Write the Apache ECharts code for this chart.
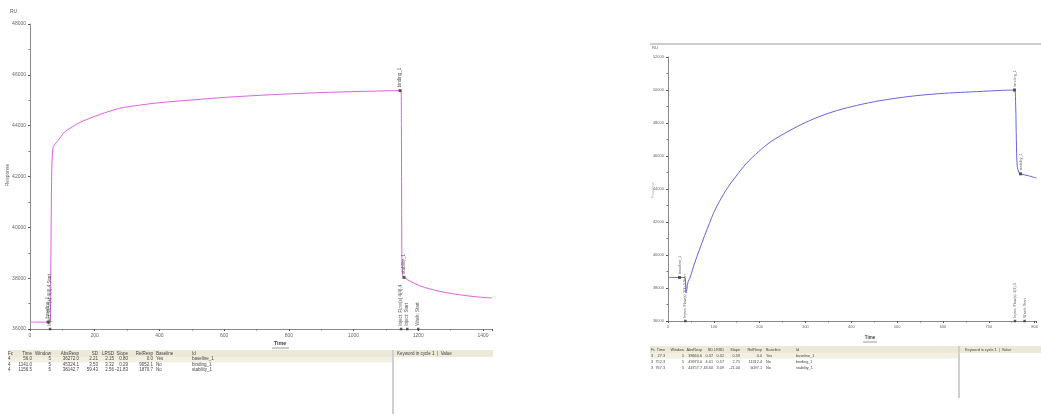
<!DOCTYPE html>
<html>
<head>
<meta charset="utf-8">
<script src="https://cdn.jsdelivr.net/npm/echarts@6/dist/echarts.min.js"></script>
<style>
html, body { margin: 0; padding: 0; background: #fff; overflow: hidden; }
#sensorgram { width: 1041px; height: 417px; }
</style>
</head>
<body>
<div id="sensorgram"></div>
<script>
// left run (flow cell 4)
var leftTime = [0, 20, 40, 56, 62, 64, 66, 68, 70, 72, 88, 108, 124, 150, 185, 230, 278, 340, 402, 500, 608, 750, 896, 1020, 1144,
    1147, 1148, 1149, 1150, 1153, 1159, 1175, 1205, 1235, 1267, 1310, 1350, 1390, 1428];
var leftResp = [36272, 36272, 36272, 36272, 36280, 38000, 41000, 42600, 43000, 43176, 43440, 43766, 43900, 44100, 44292, 44500, 44685, 44810, 44905, 45010, 45118, 45220, 45300, 45345, 45378,
    45378, 44000, 40000, 38460, 38067, 38004, 37880, 37702, 37580, 37478, 37380, 37309, 37255, 37218];
var leftReports = [['baseline_1', 56, 36272], ['binding_1', 1144, 45378], ['stability_1', 1156, 38030]];
var leftEvents = [['Inject: Flow(s) 4(4),4 Start', 62], ['Inject: Flow(s) 4(4),4', 1147], ['Inject: Start', 1166], ['Wash: Start', 1200]];

// right run (flow cell 3)
var rightTime = [0, 15, 25, 36, 38, 39.5, 41, 44, 47.4, 58, 69, 80, 90.5, 100, 112, 130, 148, 170, 198, 225, 256, 290, 328, 360, 399, 450, 502, 550, 603, 650, 701, 730, 756,
    758.6, 760, 762, 765.7, 769, 787, 804];
var rightResp = [38639, 38639, 38639, 38640, 38500, 37700, 37900, 38400, 38578, 39500, 40350, 41180, 41922, 42580, 43235, 44080, 44755, 45520, 46275, 46880, 47394, 47900, 48366, 48680, 48980, 49290, 49520, 49680, 49800, 49870, 49940, 49980, 50000,
    49010, 46987, 45363, 44998, 44919, 44798, 44658];
var rightReports = [['baseline_1', 25, 38639], ['binding_1', 756, 50000], ['stability_1', 769, 44919]];
var rightEvents = [['Inject: Flow(s) 3(3),3 Start', 38], ['Inject: Flow(s) 3(3),3', 757], ['Wash: Start', 778]];

// report point tables
var tableHeader = ['Fc', 'Time', 'Window', 'AbsResp', 'SD', 'LRSD', 'Slope', 'RelResp', 'Baseline', 'Id'];
var leftRows = [
    ['4', '56.0', '5', '36272.0', '2.21', '2.15', '0.80', '0.0', 'Yes', 'baseline_1'],
    ['4', '1141.0', '5', '45324.1', '3.53', '3.32', '0.29', '9052.1', 'No', 'binding_1'],
    ['4', '1156.5', '5', '38142.7', '59.43', '2.56', '-21.83', '1870.7', 'No', 'stability_1']
];
var rightRows = [
    ['3', '27.3', '5', '38660.6', '0.37', '0.32', '0.59', '0.0', 'Yes', 'baseline_1'],
    ['3', '752.3', '5', '49973.0', '4.01', '0.57', '2.75', '11312.4', 'No', 'binding_1'],
    ['3', '767.3', '5', '44757.7', '43.60', '3.09', '-21.00', '6097.1', 'No', 'stability_1']
];
var keywordHeader = ['Keyword in cycle 1', 'Value'];

function zip(xs, ys) {
    return xs.map(function (x, i) { return [x, ys[i]]; });
}

var chart = echarts.init(document.getElementById('sensorgram'));

var axisGray = '#8a8a8a';
var textGray = '#666';
var font = 'Liberation Sans';

function plain(v) { return String(v); }

function xAxisFor(grid, max, interval, fs) {
    return {
        type: 'value', gridIndex: grid, min: 0, max: max, interval: interval,
        axisLine: { lineStyle: { color: axisGray } },
        axisTick: { length: 2, lineStyle: { color: '#555' } },
        minorTick: { show: true, splitNumber: 2, length: 1.5, lineStyle: { color: '#777' } },
        axisLabel: { fontSize: fs, color: textGray, margin: 4, fontFamily: font,
            formatter: plain, showMaxLabel: false },
        splitLine: { show: false }
    };
}

function yAxisFor(grid, min, max, fs) {
    return {
        type: 'value', gridIndex: grid, min: min, max: max, interval: 2000,
        axisLine: { show: true, lineStyle: { color: axisGray } },
        axisTick: { show: true, length: 2, lineStyle: { color: '#555' } },
        minorTick: { show: true, splitNumber: 2, length: 1.5, lineStyle: { color: '#777' } },
        axisLabel: { fontSize: fs, color: textGray, margin: 4, fontFamily: font, formatter: plain },
        splitLine: { show: false }
    };
}

function reportSeries(idx, pts, fs) {
    return {
        type: 'scatter', xAxisIndex: idx, yAxisIndex: idx,
        symbol: 'rect', symbolSize: 3, itemStyle: { color: '#333' },
        silent: true, z: 5,
        data: pts.map(function (p) { return { name: p[0], value: [p[1], p[2]] }; }),
        label: { show: true, formatter: '{b}', rotate: 90, position: 'top', distance: 2,
            align: 'left', verticalAlign: 'middle', fontSize: fs, color: '#333', fontFamily: font }
    };
}

function eventSeries(idx, evts, base, fs) {
    return {
        type: 'scatter', xAxisIndex: idx, yAxisIndex: idx,
        symbol: 'rect', symbolSize: 2.5, itemStyle: { color: '#333' },
        silent: true, z: 5,
        data: evts.map(function (e) { return { name: e[0], value: [e[1], base] }; }),
        label: { show: true, formatter: '{b}', rotate: 90, position: 'top', distance: 2,
            align: 'left', verticalAlign: 'middle', fontSize: fs, color: '#333', fontFamily: font }
    };
}

// table columns: [x, align] for each field, per panel
var leftCols = [[8, 'left'], [32, 'right'], [51, 'right'], [79, 'right'], [98, 'right'], [114, 'right'], [128, 'right'], [153, 'right'], [156, 'left'], [192, 'left']];
var rightCols = [[651, 'left'], [665, 'right'], [684, 'right'], [702, 'right'], [713, 'right'], [724, 'right'], [740, 'right'], [762, 'right'], [766, 'left'], [796, 'left']];

function tableGraphics(cols, header, rows, headY, rowH, fs) {
    var out = [];
    header.forEach(function (h, i) {
        out.push({ type: 'text', x: cols[i][0], y: headY, silent: true,
            style: { text: h, fontSize: fs, fill: '#444', align: cols[i][1], verticalAlign: 'middle', fontFamily: font } });
    });
    rows.forEach(function (r, j) {
        r.forEach(function (v, i) {
            out.push({ type: 'text', x: cols[i][0], y: headY + rowH * (j + 1), silent: true,
                style: { text: v, fontSize: fs, fill: '#444', align: cols[i][1], verticalAlign: 'middle', fontFamily: font } });
        });
    });
    return out;
}

var graphics = [
    // panel frame line of the right sensorgram
    { type: 'line', shape: { x1: 650, y1: 44, x2: 1041, y2: 44 }, style: { stroke: '#9a9a9a', lineWidth: 1 }, silent: true },
    // left table chrome
    { type: 'rect', shape: { x: 8, y: 350, width: 485, height: 7 }, style: { fill: '#ece9d8' }, silent: true },
    { type: 'rect', shape: { x: 8, y: 357, width: 384, height: 5.5 }, style: { fill: '#f3f0e2' }, silent: true },
    { type: 'rect', shape: { x: 392, y: 350, width: 2, height: 64 }, style: { fill: '#cfcfcf' }, silent: true },
    // right table chrome
    { type: 'rect', shape: { x: 650, y: 346, width: 391, height: 7 }, style: { fill: '#ece9d8' }, silent: true },
    { type: 'rect', shape: { x: 650, y: 353, width: 308, height: 5.5 }, style: { fill: '#f3f0e2' }, silent: true },
    { type: 'rect', shape: { x: 958, y: 346, width: 2, height: 52 }, style: { fill: '#cfcfcf' }, silent: true },
    // axis names with their underline bar
    { type: 'text', x: 280, y: 343.5, silent: true, style: { text: 'Time', fontSize: 5.5, fontWeight: 'bold', fill: '#444', align: 'center', verticalAlign: 'middle', fontFamily: font } },
    { type: 'rect', shape: { x: 272, y: 347.5, width: 17, height: 1 }, style: { fill: '#9a9a9a' }, silent: true },
    { type: 'text', x: 870, y: 337.5, silent: true, style: { text: 'Time', fontSize: 4.5, fontWeight: 'bold', fill: '#444', align: 'center', verticalAlign: 'middle', fontFamily: font } },
    { type: 'rect', shape: { x: 863, y: 341.5, width: 14, height: 1 }, style: { fill: '#9a9a9a' }, silent: true },
    // unit labels
    { type: 'text', x: 10, y: 12, silent: true, style: { text: 'RU', fontSize: 5, fill: '#555', verticalAlign: 'middle', fontFamily: font } },
    { type: 'text', x: 652, y: 48, silent: true, style: { text: 'RU', fontSize: 4, fill: '#555', verticalAlign: 'middle', fontFamily: font } },
    { type: 'text', x: 8, y: 175, rotation: Math.PI / 2, silent: true, style: { text: 'Response', fontSize: 5, fill: '#666', align: 'center', verticalAlign: 'middle', fontFamily: font } },
    { type: 'text', x: 653, y: 190, rotation: Math.PI / 2, silent: true, style: { text: 'Response', fontSize: 3.5, fill: '#aaa', align: 'center', verticalAlign: 'middle', fontFamily: font } },
    // keyword panels
    { type: 'text', x: 397, y: 353.5, silent: true, style: { text: keywordHeader[0] + '  |  ' + keywordHeader[1], fontSize: 4.5, fill: '#444', verticalAlign: 'middle', fontFamily: font } },
    { type: 'text', x: 965, y: 349.5, silent: true, style: { text: keywordHeader[0] + '  |  ' + keywordHeader[1], fontSize: 3.8, fill: '#444', verticalAlign: 'middle', fontFamily: font } }
];
graphics = graphics
    .concat(tableGraphics(leftCols, tableHeader, leftRows, 353.5, 5.5, 4.5))
    .concat(tableGraphics(rightCols, tableHeader, rightRows, 349.5, 6, 3.8));

var option = {
    animation: false,
    backgroundColor: '#ffffff',
    grid: [
        { left: 30, top: 24, width: 462, height: 305 },
        { left: 668, top: 57, width: 373, height: 264 }
    ],
    xAxis: [
        xAxisFor(0, 1428, 200, 5),
        xAxisFor(1, 804, 100, 4)
    ],
    yAxis: [
        yAxisFor(0, 36000, 48000, 5),
        yAxisFor(1, 36000, 52000, 4)
    ],
    series: [
        { type: 'line', xAxisIndex: 0, yAxisIndex: 0, data: zip(leftTime, leftResp),
          showSymbol: false, smooth: 0.3, silent: true, lineStyle: { color: '#e060e6', width: 1 } },
        { type: 'line', xAxisIndex: 1, yAxisIndex: 1, data: zip(rightTime, rightResp),
          showSymbol: false, smooth: 0.3, silent: true, lineStyle: { color: '#6464e0', width: 1 } },
        reportSeries(0, leftReports, 4.5),
        eventSeries(0, leftEvents, 36000, 4.5),
        reportSeries(1, rightReports, 3.8),
        eventSeries(1, rightEvents, 36000, 3.8)
    ],
    graphic: graphics
};

chart.setOption(option);
window.addEventListener('resize', chart.resize);
</script>
</body>
</html>
